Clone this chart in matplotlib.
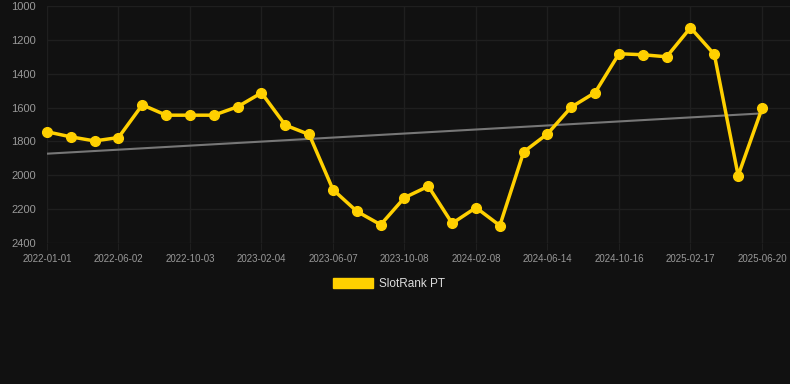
import numpy as np
import matplotlib
matplotlib.use('Agg')
import matplotlib.pyplot as plt
from matplotlib.patches import Patch

# rank values, one per snapshot (lower rank number = better, axis inverted)
ranks = [1743, 1773, 1797, 1777, 1584, 1645, 1645, 1645, 1595, 1513,
         1704, 1759, 2085, 2213, 2292, 2132, 2065, 2284, 2191, 2297,
         1862, 1755, 1597, 1511, 1282, 1288, 1300, 1128, 1286, 2002,
         1605]
tick_idx = [0, 3, 6, 9, 12, 15, 18, 21, 24, 27, 30]
tick_labels = ['2022-01-01', '2022-06-02', '2022-10-03', '2023-02-04',
               '2023-06-07', '2023-10-08', '2024-02-08', '2024-06-14',
               '2024-10-16', '2025-02-17', '2025-06-20']
y_ticks = [1000, 1200, 1400, 1600, 1800, 2000, 2200, 2400]

bg = '#111111'
yellow = '#ffd000'
grid_c = '#1f1f1f'

plt.rcParams['font.family'] = ['Liberation Sans', 'DejaVu Sans']

fig = plt.figure(figsize=(7.9, 3.84), dpi=100, facecolor=bg)
ax = fig.add_axes([47/790, 1 - 243/384, 743/790, 237/384])
ax.set_facecolor(bg)

x = np.arange(len(ranks))
# linear trend
k, b = np.polyfit(x, ranks, 1)
ax.plot(x, k*x + b, color='#777777', lw=1.5, zorder=2)

ax.plot(x, ranks, color=yellow, lw=2.5, marker='o', markersize=7,
        markerfacecolor=yellow, markeredgecolor=yellow, zorder=3,
        clip_on=False)

ax.set_ylim(2400, 1000)
ax.set_xlim(0, 30 + 28/23.83)
ax.set_yticks(y_ticks)
ax.set_xticks(tick_idx)
ax.set_xticklabels(tick_labels)
for s in ax.spines.values():
    s.set_visible(False)
ax.grid(True, color=grid_c, lw=1)
ax.set_axisbelow(True)
ax.tick_params(axis='y', colors='#999999', labelsize=8, length=0, pad=8)
ax.tick_params(axis='x', colors=grid_c, labelcolor='#999999',
               labelsize=7, length=5, pad=3)

fig.legend(handles=[Patch(facecolor=yellow, edgecolor=yellow)],
           labels=['SlotRank PT'], loc='center',
           bbox_to_anchor=(389/790, 1 - 284/384), frameon=False,
           fontsize=8.5, labelcolor='#dddddd', handlelength=3.4,
           handleheight=1.0, handletextpad=0.5)

fig.savefig('out.png', dpi=100, facecolor=bg)
